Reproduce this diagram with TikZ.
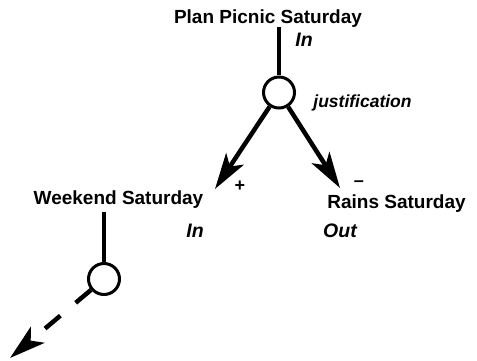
\documentclass[tikz,border=0pt]{standalone}
\usepackage{fontspec}
\setmainfont{Liberation Sans}
\usetikzlibrary{arrows.meta}
\begin{document}
\begin{tikzpicture}[x=1pt,y=-1pt,
  claim/.style={font=\bfseries\fontsize{19}{22}\selectfont, inner sep=0pt, anchor=base},
  status/.style={font=\bfseries\itshape\fontsize{19.5}{22}\selectfont, inner sep=0pt, anchor=base},
  note/.style={font=\bfseries\itshape\fontsize{17.5}{20}\selectfont, inner sep=0pt, anchor=base},
  sign/.style={font=\bfseries\fontsize{18}{20}\selectfont, inner sep=0pt},
  junction/.style={circle, draw, line width=3pt, minimum size=31pt, inner sep=0pt},
  link/.style={line width=4.5pt},
  support/.style={line width=4.5pt, -{Stealth[length=36pt,width=21pt,inset=9pt]}}]
\useasboundingbox (0,0) rectangle (477,361);
% top claim and its justification
\node[claim] (plan) at (268,24) {Plan Picnic Saturday};
\node[status] (planin) at (304,47) {In};
\node[junction] (j1) at (279,92.5) {};
\node[note] (just) at (362.5,107) {justification};
\coordinate (plantail) at (279,27);
\draw[link] (plantail) -- (j1.north);
% the two antecedents
\node[claim] (weekend) at (118.5,204) {Weekend Saturday};
\node[status] (weekin) at (195,237) {In};
\node[claim] (rains) at (396.5,208) {Rains Saturday};
\node[status] (rainsout) at (340,237) {Out};
\coordinate (tipL) at (215,189);
\coordinate (tipR) at (340,188);
\draw[support] (j1) -- (tipL);
\draw[support] (j1) -- (tipR);
\node[sign] (plus) at (240,186) {+};
\node[sign] (minus) at (359,184) {--};
% further justification below
\node[junction] (j2) at (104,279) {};
\coordinate (weektail) at (104,212);
\draw[link] (weektail) -- (j2.north);
\coordinate (tipD) at (10,358);
\draw[support, dash pattern=on 20pt off 20pt] (j2) -- (tipD);
\end{tikzpicture}
\end{document}
